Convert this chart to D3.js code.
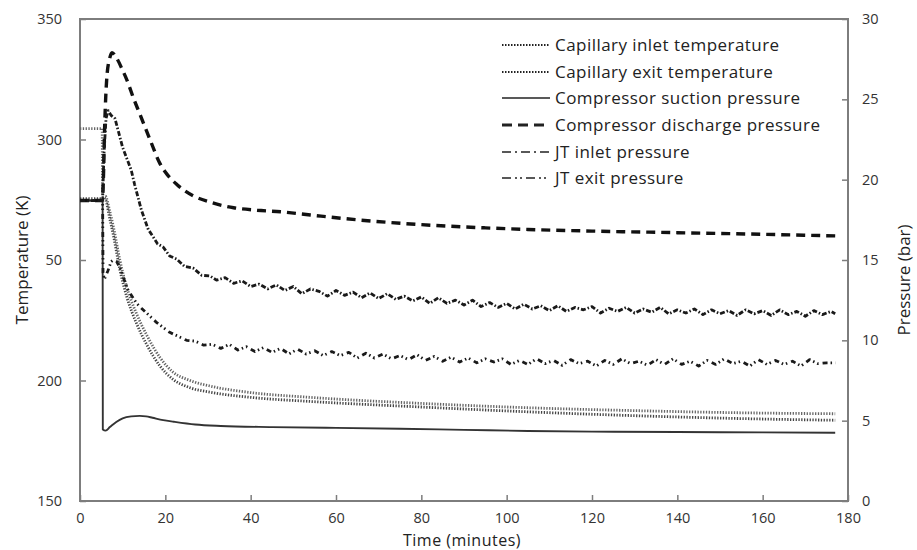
<!DOCTYPE html>
<html>
<head>
<meta charset="utf-8">
<script src="https://cdn.jsdelivr.net/npm/d3@7"></script>
<style>
  html, body { margin: 0; padding: 0; background: #fff; }
  svg { display: block; font-family: "Open Sans", "DejaVu Sans", sans-serif; }
</style>
</head>
<body>
<svg id="chart" width="917" height="550"></svg>
<script>
// ---------------- DATA ----------------
const xTicks = [0, 20, 40, 60, 80, 100, 120, 140, 160, 180];
const tempTicks = [150, 200, 250, 300, 350];
const tempTickLabels = ["150", "200", "50", "300", "350"];
const pressTicks = [0, 5, 10, 15, 20, 25, 30];

const seriesNames = [
  "Capillary inlet temperature",
  "Capillary exit temperature",
  "Compressor suction pressure",
  "Compressor discharge pressure",
  "JT inlet pressure",
  "JT exit pressure"
];

// Capillary inlet temperature (K)
const capInletTime = [0, 5.2, 5.3, 5.9, 7, 7.8, 9.4, 11, 13.3, 15.6, 18.75, 21.8, 25.8, 31, 40, 54, 80, 105, 130, 155, 177];
const capInletTemp = [304.5, 304.5, 276.5, 276.5, 270, 264, 249.5, 238.5, 227.5, 219, 209.5, 203.5, 200, 197.5, 195, 193, 190.5, 188.7, 187.5, 186.6, 186.2];

// Capillary exit temperature (K)
const capExitTime = [0, 5.2, 5.5, 6, 7, 7.8, 9.4, 11, 13.3, 15.6, 18.75, 21.8, 25.8, 31, 40, 54, 80, 105, 130, 155, 177];
const capExitTemp = [275.5, 275.5, 276, 275, 267, 260.5, 245.5, 234.5, 223.5, 215, 206, 200.5, 197, 195, 193, 191.3, 189, 187, 185.4, 184.2, 183.5];

// Compressor suction pressure (bar)
const suctionTime = [0, 5.3, 5.35, 6, 7, 8.5, 10, 12, 14, 15.5, 17, 19.5, 22, 27, 33, 45, 60, 75, 90, 105, 120, 140, 160, 177];
const suctionPress = [18.7, 18.7, 4.45, 4.38, 4.6, 4.92, 5.15, 5.27, 5.3, 5.27, 5.18, 5.03, 4.93, 4.76, 4.67, 4.6, 4.55, 4.5, 4.43, 4.36, 4.32, 4.29, 4.27, 4.25];

// Compressor discharge pressure (bar)
const dischargeTime = [0, 5.2, 5.4, 5.8, 6.3, 7, 7.5, 8.5, 10, 11, 12.5, 14, 16.4, 18.75, 20.5, 22.7, 26.5, 30.5, 36, 41.5, 47, 54, 65, 80, 95, 105, 120, 140, 160, 177];
const dischargePress = [18.7, 18.7, 19.4, 23.5, 26.4, 27.6, 27.9, 27.6, 26.8, 26.2, 25.1, 24.1, 22.5, 21.0, 20.3, 19.7, 19.0, 18.6, 18.25, 18.1, 18.0, 17.8, 17.5, 17.2, 17.0, 16.9, 16.8, 16.7, 16.6, 16.5];

// JT inlet pressure (bar)
const jtInletTime = [0, 5.3, 5.6, 6.1, 6.6, 7.3, 8.2, 9, 10, 11, 12, 12.8, 13.6, 14.4, 15.2, 16, 17, 18.2, 19.5, 21, 22.7, 24.5, 26.5, 28.5, 30.5, 32, 34, 36, 38, 40, 42,
  44, 46, 48, 50, 52, 54, 56, 58, 60, 62, 64, 66, 68, 70, 72, 74, 76, 78, 80, 82, 84, 86, 88, 90, 92, 94, 96, 98, 100,
  102, 104, 106, 108, 110, 112, 114, 116, 118, 120, 122, 124, 126, 128, 130, 132, 134, 136, 138, 140, 142, 144, 146, 148, 150,
  152, 154, 156, 158, 160, 162, 164, 166, 168, 170, 172, 174, 176, 177];
const jtInletPress = [18.7, 18.7, 21.5, 23.8, 24.3, 24.0, 23.8, 23.0, 22.0, 21.3, 20.6, 19.7, 18.9, 18.1, 17.5, 16.9, 16.5, 16.0, 15.8, 15.25, 15.05, 14.6, 14.5, 14.05, 14.0, 13.75, 13.9, 13.55, 13.7, 13.35, 13.5,
  13.2, 13.45, 13.1, 13.35, 12.9, 13.2, 13.05, 12.75, 13.1, 12.8, 13.0, 12.65, 12.95, 12.6, 12.9, 12.55, 12.75, 12.45, 12.7, 12.3, 12.65, 12.3, 12.5, 12.2, 12.5, 12.1, 12.35, 12.05, 12.3,
  11.95, 12.25, 11.95, 12.15, 11.85, 12.15, 11.8, 12.05, 11.9, 12.1, 11.7, 12.0, 11.8, 12.05, 11.7, 11.95, 11.75, 12.05, 11.65, 11.9, 11.7, 11.95, 11.6, 11.9, 11.65,
  11.85, 11.55, 11.9, 11.65, 11.85, 11.55, 11.9, 11.6, 11.8, 11.5, 11.85, 11.6, 11.8, 11.65, 11.7];

// JT exit pressure (bar)
const jtExitTime = [0, 5.3, 5.4, 5.7, 6.5, 7.3, 7.8, 8.6, 9.4, 10.3, 11.3, 12.3, 13.3, 14.4, 15.6, 16.8, 18, 19.5, 21, 23, 25, 27, 29, 31,
  33, 35, 37, 39, 41, 43, 45, 47, 49, 51, 53, 55, 57, 59, 61, 63, 65, 67, 69, 71, 73, 75, 77, 79, 81, 83, 85, 87, 89, 91, 93, 95, 97, 99,
  101, 103, 105, 107, 109, 111, 113, 115, 117, 119, 121, 123, 125, 127, 129, 131, 133, 135, 137, 139, 141, 143, 145, 147, 149, 151,
  153, 155, 157, 159, 161, 163, 165, 167, 169, 171, 173, 175, 177];
const jtExitPress = [18.7, 18.7, 14.2, 13.8, 14.3, 14.9, 15.0, 14.9, 14.5, 13.8, 13.1, 12.7, 12.3, 12.0, 11.7, 11.4, 11.1, 10.8, 10.5, 10.25, 10.0, 9.95, 9.7, 9.75,
  9.5, 9.75, 9.4, 9.6, 9.3, 9.55, 9.25, 9.5, 9.15, 9.45, 9.15, 9.35, 9.05, 9.3, 9.05, 9.25, 8.9, 9.2, 8.9, 9.15, 8.85, 9.05, 8.8, 9.1, 8.75, 9.0, 8.7, 8.95, 8.65, 8.9, 8.6, 8.85, 8.65, 8.85,
  8.5, 8.75, 8.5, 8.85, 8.55, 8.75, 8.45, 8.8, 8.55, 8.7, 8.4, 8.75, 8.5, 8.85, 8.55, 8.7, 8.45, 8.8, 8.5, 8.85, 8.5, 8.7, 8.4, 8.75, 8.5,
  8.85, 8.55, 8.7, 8.4, 8.8, 8.5, 8.75, 8.5, 8.7, 8.4, 8.8, 8.55, 8.6, 8.6];

// ---------------- CHART ----------------
const W = 917, H = 550;
const m = { left: 80, right: 69, top: 19, bottom: 49 };
const x0 = m.left, x1 = W - m.right, y0 = m.top, y1 = H - m.bottom;

const svg = d3.select("#chart");
svg.append("rect").attr("width", W).attr("height", H).attr("fill", "#fff");

const x = d3.scaleLinear().domain([0, 180]).range([x0, x1]);
const yT = d3.scaleLinear().domain([150, 350]).range([y1, y0]);
const yP = d3.scaleLinear().domain([0, 30]).range([y1, y0]);

const axisColor = "#7d7d7d";
const labelColor = "#333";

// Axes
const gx = svg.append("g").attr("transform", `translate(0,${y1})`)
  .call(d3.axisBottom(x).tickValues(xTicks).tickSizeInner(-6).tickSizeOuter(0).tickPadding(12));
const gl = svg.append("g").attr("transform", `translate(${x0},0)`)
  .call(d3.axisLeft(yT).tickValues(tempTicks).tickFormat((d, i) => tempTickLabels[i]).tickSizeInner(-6).tickSizeOuter(0).tickPadding(18));
const gr = svg.append("g").attr("transform", `translate(${x1},0)`)
  .call(d3.axisRight(yP).tickValues(pressTicks).tickSizeInner(-6).tickSizeOuter(0).tickPadding(14));

[gx, gl, gr].forEach(g => {
  g.select(".domain").remove();
  g.selectAll(".tick line").attr("stroke", axisColor).attr("stroke-width", 1.5);
  g.selectAll(".tick text").attr("fill", labelColor).style("font-size", "14.5px").style("font-family", "'Open Sans', sans-serif");
});

// frame
svg.append("rect").attr("x", x0).attr("y", y0).attr("width", x1 - x0).attr("height", y1 - y0)
  .attr("fill", "none").attr("stroke", axisColor).attr("stroke-width", 2);

// Axis titles
svg.append("text").attr("x", 462).attr("y", 545.5).attr("text-anchor", "middle")
  .attr("fill", "#222").style("font-size", "16px").style("letter-spacing", "0.5px").text("Time (minutes)");
svg.append("text").attr("transform", `translate(28,${(y0 + y1) / 2}) rotate(-90)`).attr("text-anchor", "middle")
  .attr("fill", "#222").style("font-size", "17px").text("Temperature (K)");
svg.append("text").attr("transform", `translate(910,${(y0 + y1) / 2 + 20}) rotate(-90)`).attr("text-anchor", "middle")
  .attr("fill", "#222").style("font-size", "17px").text("Pressure (bar)");

// Lines
const zip = (a, b) => a.map((v, i) => [v, b[i]]);

const styles = [
  { data: zip(capInletTime, capInletTemp), scale: yT, stroke: "#666", width: 2.8, dash: "1.3,1.5", curve: true },
  { data: zip(capExitTime, capExitTemp), scale: yT, stroke: "#444", width: 2.8, dash: "1.3,1.5", curve: true },
  { data: zip(suctionTime, suctionPress), scale: yP, stroke: "#333", width: 1.9, dash: null, curve: true },
  { data: zip(dischargeTime, dischargePress), scale: yP, stroke: "#111", width: 3.4, dash: "9,6", curve: true },
  { data: zip(jtInletTime, jtInletPress), scale: yP, stroke: "#1a1a1a", width: 2.8, dash: "5,2,1.5,2", curve: false },
  { data: zip(jtExitTime, jtExitPress), scale: yP, stroke: "#1a1a1a", width: 2.8, dash: "5,3,1.5,3,1.5,4", curve: false }
];

const plot = svg.append("g");
styles.forEach(s => {
  const gen = d3.line().x(d => x(d[0])).y(d => s.scale(d[1]))
    .curve(s.curve ? d3.curveMonotoneX : d3.curveLinear);
  const p = plot.append("path").attr("d", gen(s.data)).attr("fill", "none")
    .attr("stroke", s.stroke).attr("stroke-width", s.width).attr("stroke-linejoin", "round");
  if (s.dash) p.attr("stroke-dasharray", s.dash);
});

// Legend
const legY = [45, 72, 98, 125, 152, 178];
const legendDash = ["1.5,1.5", "1.5,1.5", null, "10,6", "9,4,2,4", "9,4,2,3,2,4"];
const legendW = [1.8, 1.8, 1.5, 3, 1.6, 1.6];
const leg = svg.append("g");
seriesNames.forEach((n, i) => {
  const l = leg.append("line").attr("x1", 502).attr("x2", 550).attr("y1", legY[i]).attr("y2", legY[i])
    .attr("stroke", "#222").attr("stroke-width", legendW[i]);
  if (legendDash[i]) l.attr("stroke-dasharray", legendDash[i]);
  leg.append("text").attr("x", 555).attr("y", legY[i] + 6).attr("fill", "#222")
    .style("font-size", "17px").style("letter-spacing", "0.45px").text(n);
});
</script>
</body>
</html>
